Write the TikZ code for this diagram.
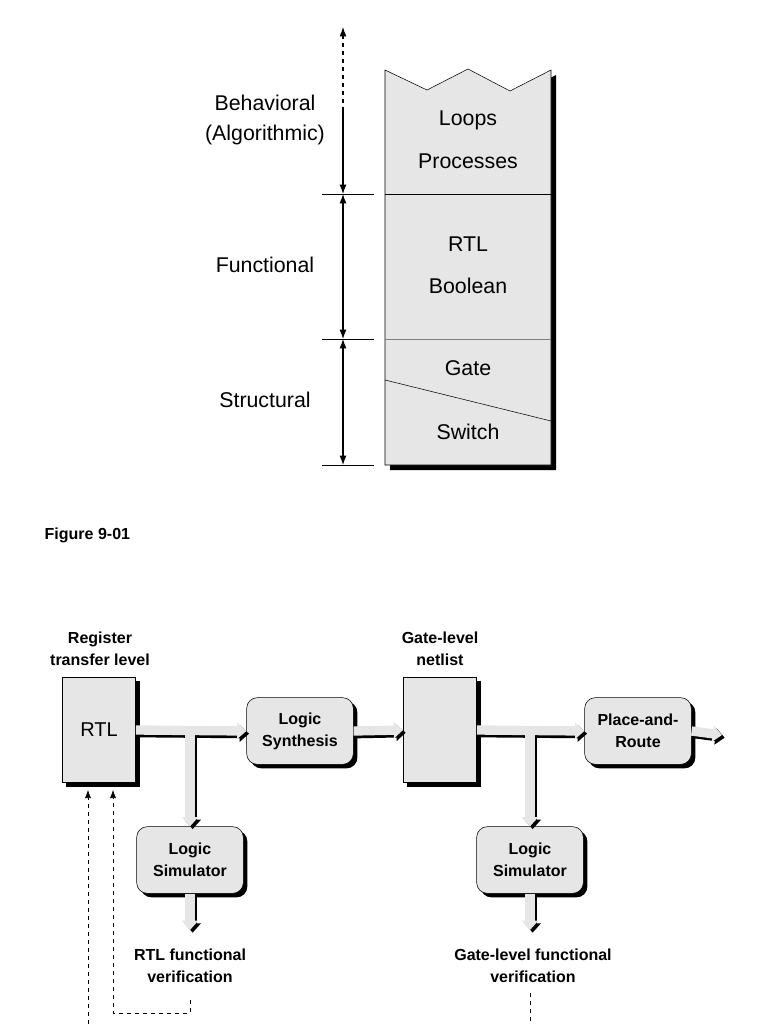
\documentclass[tikz,border=0pt]{standalone}
\usepackage{fontspec}
\setmainfont{Liberation Sans}
\usetikzlibrary{arrows.meta, shadows}
\definecolor{boxgray}{HTML}{e6e6e6}

\tikzset{
  px/.style={x=0.75pt, y=-0.75pt},
  lbl/.style={font=\fontsize{16}{22}\selectfont, align=center},
  sm/.style={font=\fontsize{12}{16.5}\selectfont\bfseries, align=center},
  shd/.style={drop shadow={shadow xshift=3pt, shadow yshift=-3pt, opacity=1, fill=black}},
  blk/.style={draw, fill=boxgray, shd, minimum width=55pt, minimum height=79pt},
  rnd/.style={draw, fill=boxgray, shd, rounded corners=8pt, sm, minimum width=80pt, minimum height=50pt},
  pipe/.style={line width=7pt, boxgray, -{Triangle[length=7pt, width=12pt]}},
  pipeshd/.style={line width=7pt, black, -{Triangle[length=7pt, width=12pt]}},
  dim/.style={thick, {Latex[length=7pt]}-{Latex[length=7pt]}},
  fb/.style={dashed, -{Latex[length=6pt]}},
}

\begin{document}
\begin{tikzpicture}[px]
\useasboundingbox (0,0) rectangle (768,1024);

% level column
\fill[black] (390,75) -- (432,95) -- (473,74) -- (515,96) -- (556,75) -- (556,470) -- (390,470) -- cycle;
\draw[fill=boxgray] (385,70) -- (427,90) -- (468,69) -- (510,91) -- (551,70) -- (551,465) -- (385,465) -- cycle;
\draw (385,194) -- (551,194);
\draw[gray] (385,339) -- (551,339);
\draw (385,380) -- (551,421);

\node[lbl] (loops) at (468,120) {Loops};
\node[lbl] (proc) at (468,161) {Processes};
\node[lbl] (rtl1) at (468,244) {RTL};
\node[lbl] (bool) at (468,286) {Boolean};
\node[lbl] (gate) at (468,368) {Gate};
\node[lbl] (switch) at (468,432) {Switch};

% dimension arrows
\foreach \y in {194,339,465} {
  \draw (322,\y) -- (374,\y);
}
\coordinate (t0) at (343,27);
\coordinate (t1) at (343,194);
\coordinate (t2) at (343,339);
\coordinate (t3) at (343,465);
\draw[thick, dashed] (343,35) -- (343,110);
\draw[thick, {Latex[length=7pt]}-] (t0) -- (343,36);
\draw[thick, -{Latex[length=7pt]}] (343,110) -- (t1);
\draw[dim] (t1) -- (t2);
\draw[dim] (t2) -- (t3);

\node[lbl] (beh) at (265,120) {Behavioral\\(Algorithmic)};
\node[lbl] (func) at (265,265) {Functional};
\node[lbl] (struct) at (265,400) {Structural};

\node[font=\fontsize{12}{14}\selectfont\bfseries, anchor=west] (fig) at (40,535) {Figure 9-01};

% flow
\node[blk, font=\fontsize{15}{17}\selectfont] (rtl) at (99,730) {RTL};
\node[blk] (net) at (440,730) {};
\node[rnd] (synth) at (300,731) {Logic\\Synthesis};
\node[rnd] (pnr) at (638,731) {Place-and-\\Route};
\node[rnd] (sim1) at (190,860) {Logic\\Simulator};
\node[rnd] (sim2) at (530,860) {Logic\\Simulator};

\node[sm] (reg) at (100,649) {Register\\transfer level};
\node[sm] (gnl) at (440,649) {Gate-level\\netlist};
\node[sm] (ver1) at (190,966) {RTL functional\\verification};
\node[sm] (ver2) at (533,966) {Gate-level functional\\verification};

\coordinate (br1) at (190,735);
\coordinate (br2) at (530,735);
\coordinate (out) at (722,735);
\coordinate (d1) at (190,930);
\coordinate (d2) at (530,930);

\begin{scope}[transform canvas={shift={(2pt,-2pt)}}]
\draw[pipeshd] (rtl.east) -- (synth.west);
\draw[pipeshd] (br1) -- (sim1.north);
\draw[pipeshd] (synth.east) -- (net.west);
\draw[pipeshd] (net.east) -- (pnr.west);
\draw[pipeshd] (br2) -- (sim2.north);
\draw[pipeshd] (pnr.east) -- (out);
\draw[pipeshd] (sim1.south) -- (d1);
\draw[pipeshd] (sim2.south) -- (d2);
\end{scope}
\draw[pipe] (rtl.east) -- (synth.west);
\draw[pipe] (br1) -- (sim1.north);
\draw[pipe] (synth.east) -- (net.west);
\draw[pipe] (net.east) -- (pnr.west);
\draw[pipe] (br2) -- (sim2.north);
\draw[pipe] (pnr.east) -- (out);
\draw[pipe] (sim1.south) -- (d1);
\draw[pipe] (sim2.south) -- (d2);

% feedback
\coordinate (f1) at (88,1024);
\coordinate (f2) at (190,1000);
\coordinate (f3) at (530,993);
\coordinate (f4) at (530,1024);
\draw[fb] (f1) -- (88,790);
\draw[fb] (f2) -- (190,1013) -- (113,1013) -- (113,790);
\draw[dashed] (f3) -- (f4);
\end{tikzpicture}
\end{document}
